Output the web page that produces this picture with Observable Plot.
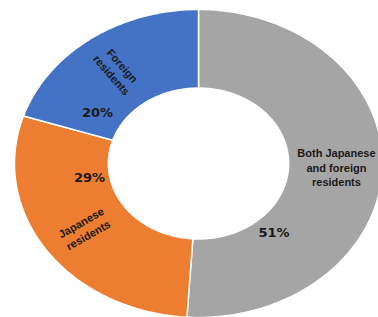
<!DOCTYPE html>
<html><head><meta charset="utf-8">
<script src="https://cdn.jsdelivr.net/npm/d3@7"></script>
<script src="https://cdn.jsdelivr.net/npm/@observablehq/plot@0.6"></script>
<style>html,body{margin:0;padding:0;background:#fff;overflow:hidden}</style>
</head><body><div id="chart"></div>
<script>
// ---- data ----
const categories = ["Both Japanese and foreign residents", "Japanese residents", "Foreign residents"];
const nameLabels = ["Both Japanese\nand foreign\nresidents", "Japanese\nresidents", "Foreign\nresidents"];
const values = [51, 29, 20];
const percentLabels = ["51%", "29%", "20%"];

// ---- style / layout ----
const colors = ["#A5A5A5", "#ED7D31", "#4472C4"];
const W = 378, H = 317;
const xRange = [14, 382], yRange = [9, 317];
const rx = (xRange[1] - xRange[0]) / 2, ry = (yRange[1] - yRange[0]) / 2;
const innerR = 0.49;
const nameR = 0.75;
const nameRotated = [false, true, true];
const pctFrac = [0.75, 0.74, 0.18];
const pctR = [0.61, 0.60, 0.64];

const total = d3.sum(values);
let acc = 0;
const slices = categories.map((c, i) => {
  const a0 = acc / total * 360; acc += values[i];
  const a1 = acc / total * 360;
  return {c, i, a0, a1};
});
const rad = d => d * Math.PI / 180;
const pt = (a, r) => ({x: r * Math.sin(rad(a)), y: -r * Math.cos(rad(a))});

const pts = [];
for (const s of slices) {
  const n = Math.ceil(s.a1 - s.a0);
  const ring = [];
  for (let k = 0; k <= n; k++) ring.push(pt(s.a0 + (s.a1 - s.a0) * k / n, 1));
  for (let k = n; k >= 0; k--) ring.push(pt(s.a0 + (s.a1 - s.a0) * k / n, innerR));
  ring.push(ring[0]);
  for (const p of ring) pts.push({cat: s.c, ...p});
}

const names = slices.map(s => {
  const am = (s.a0 + s.a1) / 2;
  const p = pt(am, nameR);
  let deg = Math.atan2(-ry * Math.cos(rad(am)), rx * Math.sin(rad(am))) * 180 / Math.PI;
  if (deg > 90) deg -= 180;
  if (deg <= -90) deg += 180;
  return {...p, text: nameLabels[s.i], rotate: nameRotated[s.i] ? deg : 0};
});
const pcts = slices.map(s => {
  const a = s.a0 + (s.a1 - s.a0) * pctFrac[s.i];
  return {...pt(a, pctR[s.i]), text: percentLabels[s.i]};
});

const chart = Plot.plot({
  width: W, height: H, margin: 0,
  style: {background: "white", overflow: "visible"},
  x: {domain: [-1, 1], range: xRange, axis: null},
  y: {domain: [-1, 1], range: yRange, axis: null},
  color: {domain: categories, range: colors},
  marks: [
    Plot.line(pts, {x: "x", y: "y", z: "cat", fill: "cat", stroke: "white", strokeWidth: 1.5, curve: "linear"}),
    Plot.text(names, {x: "x", y: "y", text: "text", rotate: "rotate", fill: "#1a1a1a",
      fontFamily: "Liberation Sans", fontWeight: "bold", fontSize: 11, lineHeight: 1.3}),
    Plot.text(pcts, {x: "x", y: "y", text: "text", fill: "#1a1a1a",
      fontFamily: "DejaVu Sans", fontWeight: "bold", fontSize: 13})
  ]
});
document.getElementById("chart").appendChild(chart);
</script>
</body></html>
